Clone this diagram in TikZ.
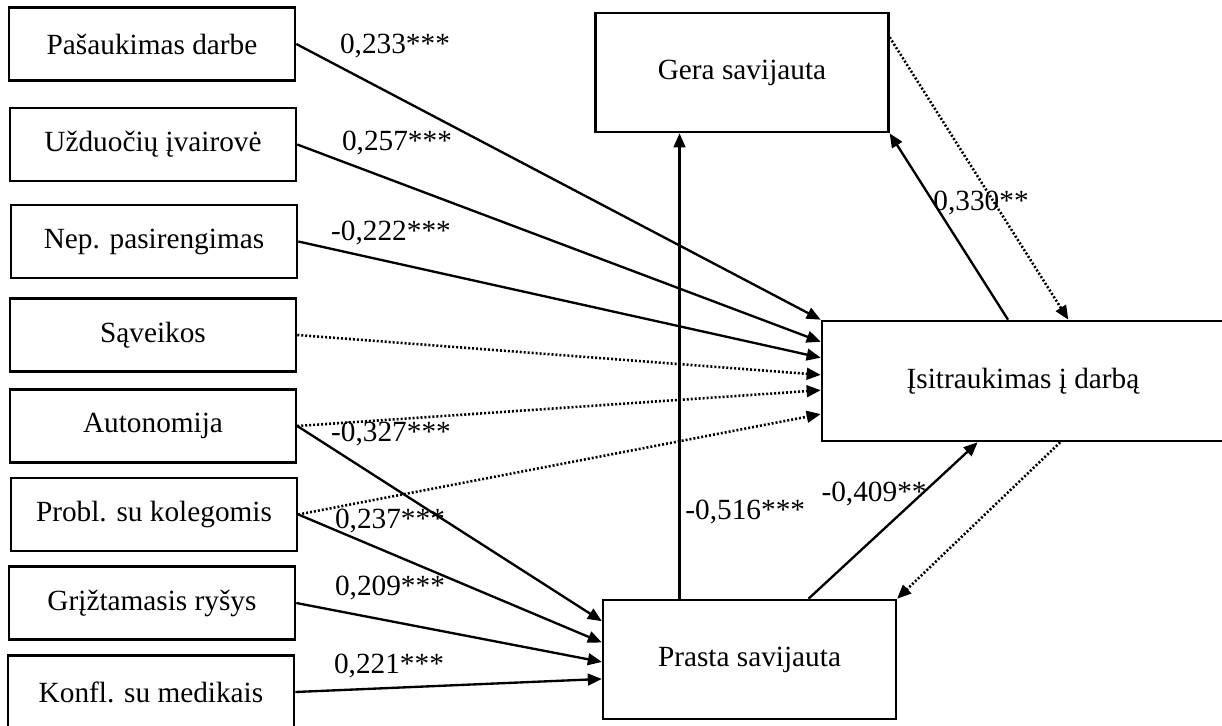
\documentclass[tikz,border=0pt]{standalone}
\usepackage{fontspec}
\setmainfont{Liberation Serif}
\usetikzlibrary{arrows.meta,calc}

\begin{document}
\begin{tikzpicture}[x=0.015cm, y=-0.015cm,
    box/.style={draw, line width=1.1pt, minimum width=4.29cm, minimum height=1.09cm, inner sep=0pt, font=\fontsize{12.5}{15}\selectfont},
    big/.style={box, minimum width=4.39cm, minimum height=1.785cm},
    eff/.style={-{Triangle[length=6pt,width=5pt]}, line width=1pt},
    nsig/.style={eff, line width=1.1pt, dash pattern=on 0.85pt off 0.85pt},
    coef/.style={inner sep=0pt, font=\fontsize{12.5}{15}\selectfont}]
    \useasboundingbox (0,0) rectangle (1222,726);
    % predictors
    \node[box] (pas) at (152,44) {Pašaukimas darbe};
    \node[box] (uzd) at (153,144.5) {Užduočių įvairovė};
    \node[box] (nep) at (154,241.5) {Nep. pasirengimas};
    \node[box] (sav) at (153,335) {Sąveikos};
    \node[box] (aut) at (153,426) {Autonomija};
    \node[box] (pro) at (154,514.5) {Probl. su kolegomis};
    \node[box] (grz) at (152,603) {Grįžtamasis ryšys};
    \node[box] (kon) at (151,692) {Konfl. su medikais};
    % outcomes
    \node[big] (gera) at (742,72.5) {Gera savijauta};
    \node[big] (prasta) at (749.5,659.5) {Prasta savijauta};
    \node[big, minimum width=6.03cm, minimum height=1.8cm] (isi) at (1023,381) {Įsitraukimas į darbą};
    % paths to engagement
    \draw[eff] (pas.east) -- (isi.north west);
    \draw[eff] (uzd.east) -- ($(isi.north west)!0.18!(isi.south west)$);
    \draw[eff] (nep.east) -- ($(isi.north west)!0.31!(isi.south west)$);
    \draw[nsig] (sav.east) -- ($(isi.north west)!0.45!(isi.south west)$);
    \draw[nsig] (aut.east) -- ($(isi.north west)!0.575!(isi.south west)$);
    \draw[nsig] (pro.east) -- ($(isi.north west)!0.77!(isi.south west)$);
    % paths to poor wellbeing
    \draw[eff] (aut.east) -- ($(prasta.north west)!0.185!(prasta.south west)$);
    \draw[eff] (pro.east) -- ($(prasta.north west)!0.36!(prasta.south west)$);
    \draw[eff] (grz.east) -- ($(prasta.north west)!0.52!(prasta.south west)$);
    \draw[eff] (kon.east) -- ($(prasta.north west)!0.66!(prasta.south west)$);
    % between outcomes
    \coordinate (pt) at ($(prasta.north west)!0.263!(prasta.north east)$);
    \draw[eff] (pt) -- (pt |- gera.south);
    \draw[eff] ($(isi.north west)!0.463!(isi.north east)$) -- (gera.south east);
    \draw[nsig] ($(gera.north east)!0.21!(gera.south east)$) -- ($(isi.north west)!0.612!(isi.north east)$);
    \draw[eff] ($(prasta.north west)!0.70!(prasta.north east)$) -- ($(isi.south west)!0.388!(isi.south east)$);
    \draw[nsig] ($(isi.south west)!0.592!(isi.south east)$) -- (prasta.north east);
    % coefficients
    \node[coef] (c1) at (395,46) {0,233***};
    \node[coef] (c2) at (397,143) {0,257***};
    \node[coef] (c3) at (391,233) {-0,222***};
    \node[coef] (c4) at (391,434) {-0,327***};
    \node[coef] (c5) at (390,521) {0,237***};
    \node[coef] (c6) at (390,588) {0,209***};
    \node[coef] (c7) at (389,666) {0,221***};
    \node[coef, anchor=west] (c8) at (685,512) {-0,516***};
    \node[coef, anchor=east] (c9) at (927,494) {-0,409**};
    \node[coef, anchor=west] (c10) at (933,203) {0,330**};
\end{tikzpicture}
\end{document}
